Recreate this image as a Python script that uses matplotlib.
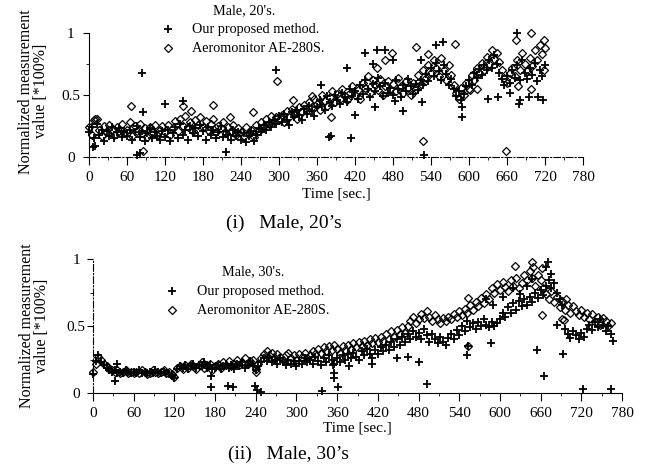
import numpy as np
import matplotlib
matplotlib.use("Agg")
import matplotlib.pyplot as plt
from matplotlib.ticker import MultipleLocator

plt.rcParams['font.family'] = ['Liberation Serif', 'DejaVu Serif']

# measurements taken every 4 s
t_20s = np.arange(0, 721, 4)
t_30s = np.arange(0, 765, 4)

# ---- Male, 20's ----
ours_20s = [
    0.20, 0.24, 0.15, 0.27, 0.18, 0.22, 0.13, 0.21, 0.17, 0.24, 0.15, 0.20, 0.23, 0.16, 0.21,
    0.17, 0.22, 0.14, 0.20, 0.25, 0.16, 0.21, 0.13, 0.19, 0.23, 0.15, 0.20, 0.17, 0.14, 0.21,
    0.16, 0.22, 0.13, 0.19, 0.24, 0.15, 0.27, 0.18, 0.22, 0.14, 0.25, 0.19, 0.23, 0.17, 0.26,
    0.21, 0.14, 0.24, 0.18, 0.22, 0.15, 0.20, 0.25, 0.16, 0.21, 0.18, 0.14, 0.22, 0.17, 0.20,
    0.14, 0.19, 0.12, 0.17, 0.21, 0.13, 0.18, 0.23, 0.20, 0.26, 0.22, 0.28, 0.24, 0.30, 0.27,
    0.33, 0.28, 0.35, 0.30, 0.26, 0.36, 0.32, 0.38, 0.34, 0.30, 0.39, 0.35, 0.41, 0.37, 0.33,
    0.40, 0.46, 0.42, 0.38, 0.49, 0.44, 0.41, 0.50, 0.46, 0.43, 0.52, 0.48, 0.44, 0.55, 0.49,
    0.53, 0.47, 0.58, 0.51, 0.62, 0.55, 0.48, 0.59, 0.53, 0.64, 0.57, 0.49, 0.60, 0.52, 0.56,
    0.50, 0.62, 0.55, 0.48, 0.58, 0.53, 0.63, 0.57, 0.51, 0.59, 0.54, 0.62, 0.58, 0.67, 0.61,
    0.72, 0.65, 0.76, 0.69, 0.62, 0.74, 0.67, 0.58, 0.63, 0.55, 0.49, 0.53, 0.46, 0.51, 0.57,
    0.62, 0.58, 0.68, 0.64, 0.71, 0.66, 0.74, 0.70, 0.78, 0.72, 0.82, 0.75, 0.68, 0.63, 0.58,
    0.65, 0.60, 0.70, 0.64, 0.74, 0.62, 0.78, 0.68, 0.63, 0.72, 0.66, 0.76, 0.61, 0.70, 0.65,
    0.74,
]
aero_20s = [
    0.24, 0.18, 0.30, 0.31, 0.22, 0.17, 0.25, 0.20, 0.26, 0.22, 0.18, 0.24, 0.21, 0.27, 0.19,
    0.22, 0.28, 0.17, 0.25, 0.21, 0.27, 0.19, 0.23, 0.16, 0.24, 0.20, 0.26, 0.18, 0.22, 0.25,
    0.20, 0.26, 0.18, 0.23, 0.29, 0.21, 0.31, 0.25, 0.33, 0.24, 0.28, 0.21, 0.30, 0.26, 0.32,
    0.24, 0.29, 0.22, 0.27, 0.31, 0.20, 0.25, 0.23, 0.28, 0.19, 0.24, 0.21, 0.26, 0.18, 0.23,
    0.20, 0.17, 0.24, 0.19, 0.22, 0.16, 0.26, 0.21, 0.28, 0.25, 0.31, 0.27, 0.33, 0.29, 0.32,
    0.30, 0.34, 0.28, 0.37, 0.32, 0.39, 0.35, 0.31, 0.40, 0.36, 0.42, 0.38, 0.44, 0.40, 0.47,
    0.43, 0.38, 0.50, 0.45, 0.41, 0.48, 0.53, 0.44, 0.51, 0.47, 0.55, 0.49, 0.46, 0.52, 0.57,
    0.50, 0.54, 0.47, 0.60, 0.56, 0.65, 0.52, 0.62, 0.58, 0.54, 0.63, 0.50, 0.57, 0.61, 0.55,
    0.59, 0.53, 0.64, 0.57, 0.52, 0.61, 0.56, 0.50, 0.60, 0.55, 0.66, 0.59, 0.70, 0.64, 0.74,
    0.68, 0.78, 0.72, 0.65, 0.80, 0.70, 0.62, 0.74, 0.66, 0.58, 0.52, 0.47, 0.56, 0.50, 0.60,
    0.55, 0.66, 0.62, 0.72, 0.68, 0.76, 0.70, 0.81, 0.75, 0.86, 0.79, 0.84, 0.77, 0.70, 0.64,
    0.60, 0.68, 0.72, 0.65, 0.78, 0.70, 0.84, 0.75, 0.69, 0.80, 0.73, 0.86, 0.78, 0.90, 0.83,
    0.88,
]
# scattered single readings (time, value)
ours_20s_extra_t = [7, 10, 76, 80, 83, 86, 120, 148, 217, 296, 366, 379, 382, 407, 413, 420,
                    436, 448, 452, 455, 467, 480, 483, 496, 524, 525, 529, 548, 559, 589, 589,
                    630, 646, 665, 676, 679, 680, 695, 709, 717]
ours_20s_extra_v = [0.08, 0.09, 0.02, 0.03, 0.68, 0.36, 0.43, 0.45, 0.04, 0.70, 0.58, 0.16, 0.17,
                    0.72, 0.15, 0.34, 0.84, 0.75, 0.40, 0.86, 0.86, 0.78, 0.45, 0.37, 0.78, 0.44,
                    0.015, 0.90, 0.93, 0.32, 0.40, 0.47, 0.48, 0.52, 1.00, 0.43, 0.46, 0.48, 0.48,
                    0.46]
aero_20s_extra_t = [10, 67, 85, 148, 161, 195, 223, 259, 297, 322, 352, 382, 455, 467, 479,
                    517, 528, 536, 578, 602, 612, 658, 674, 677, 698, 698, 718, 718]
aero_20s_extra_v = [0.31, 0.41, 0.05, 0.41, 0.37, 0.42, 0.32, 0.36, 0.61, 0.46, 0.49, 0.32,
                    0.72, 0.78, 0.84, 0.89, 0.13, 0.83, 0.91, 0.54, 0.55, 0.05, 0.94, 0.57,
                    1.00, 0.55, 0.94, 0.70]

# ---- Male, 30's ----
ours_30s = [
    0.14, 0.24, 0.28, 0.23, 0.21, 0.19, 0.17, 0.16, 0.17, 0.15, 0.16, 0.15, 0.17, 0.16, 0.15,
    0.16, 0.15, 0.17, 0.15, 0.16, 0.15, 0.16, 0.15, 0.17, 0.16, 0.15, 0.16, 0.15, 0.14, 0.13,
    0.11, 0.18, 0.20, 0.19, 0.21, 0.18, 0.20, 0.22, 0.19, 0.21, 0.20, 0.23, 0.19, 0.21, 0.18,
    0.19, 0.21, 0.18, 0.20, 0.22, 0.19, 0.21, 0.18, 0.22, 0.20, 0.23, 0.19, 0.21, 0.24, 0.20,
    0.17, 0.20, 0.23, 0.26, 0.24, 0.27, 0.23, 0.25, 0.22, 0.26, 0.23, 0.21, 0.25, 0.22, 0.24,
    0.20, 0.24, 0.22, 0.26, 0.23, 0.25, 0.22, 0.27, 0.24, 0.21, 0.26, 0.23, 0.28, 0.25, 0.22,
    0.26, 0.23, 0.28, 0.25, 0.29, 0.26, 0.30, 0.27, 0.25, 0.31, 0.28, 0.33, 0.29, 0.26, 0.32,
    0.29, 0.34, 0.31, 0.36, 0.32, 0.38, 0.34, 0.40, 0.36, 0.42, 0.38, 0.44, 0.40, 0.46, 0.42,
    0.45, 0.40, 0.48, 0.43, 0.38, 0.44, 0.40, 0.37, 0.42, 0.38, 0.36, 0.41, 0.44, 0.40, 0.47,
    0.43, 0.50, 0.46, 0.54, 0.49, 0.52, 0.48, 0.53, 0.50, 0.55, 0.51, 0.49, 0.53, 0.50, 0.52,
    0.55, 0.60, 0.57, 0.64, 0.60, 0.67, 0.62, 0.69, 0.65, 0.70, 0.66, 0.72, 0.68, 0.75, 0.71,
    0.77, 0.73, 0.80, 0.84, 0.78, 0.82, 0.75, 0.70, 0.66, 0.48, 0.44, 0.41, 0.46, 0.43, 0.40,
    0.45, 0.42, 0.48, 0.51, 0.47, 0.53, 0.49, 0.55, 0.51, 0.46, 0.50, 0.44,
]
aero_30s = [
    0.16, 0.22, 0.27, 0.25, 0.22, 0.20, 0.18, 0.17, 0.16, 0.17, 0.15, 0.16, 0.17, 0.15, 0.16,
    0.15, 0.16, 0.15, 0.17, 0.16, 0.14, 0.15, 0.17, 0.16, 0.15, 0.16, 0.17, 0.15, 0.16, 0.14,
    0.12, 0.19, 0.20, 0.18, 0.21, 0.19, 0.22, 0.20, 0.18, 0.21, 0.23, 0.19, 0.20, 0.22, 0.17,
    0.20, 0.22, 0.19, 0.23, 0.21, 0.24, 0.20, 0.22, 0.25, 0.21, 0.23, 0.26, 0.22, 0.24, 0.25,
    0.18, 0.22, 0.26, 0.29, 0.31, 0.28, 0.30, 0.26, 0.29, 0.27, 0.25, 0.28, 0.30, 0.26, 0.28,
    0.25, 0.29, 0.27, 0.30, 0.26, 0.28, 0.31, 0.29, 0.33, 0.30, 0.34, 0.31, 0.35, 0.32, 0.36,
    0.33, 0.30, 0.35, 0.32, 0.36, 0.33, 0.37, 0.34, 0.38, 0.35, 0.39, 0.36, 0.40, 0.37, 0.41,
    0.38, 0.42, 0.39, 0.44, 0.40, 0.46, 0.42, 0.47, 0.44, 0.49, 0.45, 0.50, 0.54, 0.57, 0.52,
    0.55, 0.59, 0.56, 0.61, 0.57, 0.54, 0.58, 0.55, 0.52, 0.56, 0.54, 0.57, 0.55, 0.59, 0.57,
    0.61, 0.58, 0.63, 0.60, 0.66, 0.62, 0.68, 0.65, 0.71, 0.67, 0.74, 0.70, 0.78, 0.75, 0.81,
    0.77, 0.83, 0.79, 0.76, 0.84, 0.80, 0.86, 0.78, 0.82, 0.88, 0.84, 0.91, 0.86, 0.80, 0.88,
    0.84, 0.78, 0.74, 0.70, 0.76, 0.68, 0.72, 0.64, 0.69, 0.62, 0.66, 0.60, 0.65, 0.61, 0.58,
    0.62, 0.57, 0.60, 0.55, 0.59, 0.53, 0.57, 0.51, 0.56, 0.54, 0.50, 0.52,
]
ours_30s_extra_t = [32, 36, 174, 174, 199, 207, 239, 242, 247, 337, 354, 355, 356, 361, 378,
                    411, 448, 465, 481, 492, 552, 553, 580, 587, 590, 605, 620, 630, 640, 648,
                    655, 665, 668, 671, 676, 684, 693, 723, 764, 766]
ours_30s_extra_v = [0.09, 0.22, 0.045, 0.13, 0.05, 0.045, 0.05, 0.02, 0.01, 0.015, 0.21, 0.15,
                    0.11, 0.045, 0.20, 0.22, 0.26, 0.27, 0.23, 0.07, 0.28, 0.35, 0.70, 0.37,
                    0.66, 0.72, 0.78, 0.74, 0.80, 0.85, 0.32, 0.13, 0.94, 0.98, 0.89, 0.51,
                    0.29, 0.03, 0.03, 0.39]
aero_30s_extra_t = [240, 553, 553, 622, 647, 649, 662, 662, 692, 694, 698]
aero_30s_extra_v = [0.16, 0.35, 0.71, 0.95, 0.98, 0.94, 0.93, 0.585, 0.55, 0.545, 0.70]

W, H = 645, 470
fig = plt.figure(figsize=(W / 100, H / 100), dpi=100)

PLUS = dict(linestyle='none', marker='+', ms=5.8, color='black', mew=1.3)
DIAM = dict(linestyle='none', marker='D', ms=4.4, mfc='none', mec='black', mew=0.9)


def px(x, y):
    return x / W, 1 - y / H


def draw_panel(ax, t, ours, aero, ours_xt, ours_xv, aero_xt, aero_xv, ypad):
    ax.plot(t, aero, clip_on=False, **DIAM)
    ax.plot(aero_xt, aero_xv, clip_on=False, **DIAM)
    ax.plot(t, ours, clip_on=False, **PLUS)
    ax.plot(ours_xt, ours_xv, clip_on=False, **PLUS)

    ax.set_xlim(0, 780)
    ax.set_ylim(0, 1)
    ax.xaxis.set_major_locator(MultipleLocator(60))
    ax.xaxis.set_minor_locator(MultipleLocator(30))
    ax.set_yticks([0, 0.5, 1])
    ax.set_yticklabels(['0', '0.5', '1'], ha='center')
    ax.yaxis.set_minor_locator(MultipleLocator(0.25))
    ax.tick_params(axis='x', which='major', direction='out', length=5.5, width=0.8,
                   labelsize=11, pad=4.5)
    ax.tick_params(axis='x', which='minor', direction='out', length=2.5, width=0.6)
    ax.tick_params(axis='y', which='major', direction='out', length=4, width=0.8,
                   labelsize=11, pad=ypad)
    ax.tick_params(axis='y', which='minor', direction='out', length=2, width=0.6)
    ax.spines['top'].set_visible(False)
    ax.spines['right'].set_visible(False)
    ax.set_ylabel('Normalized measurement\nvalue [*100%]', fontsize=11.5, linespacing=0.95)
    ax.yaxis.set_label_coords(-0.081, 0.53)


def legend(title, tx, ty, mx, x0, y1, y2):
    fig.text(*px(tx, ty), title, ha='center', va='center', fontsize=10.3)
    fig.add_artist(plt.Line2D([mx / W], [1 - y1 / H], **PLUS))
    fig.add_artist(plt.Line2D([mx / W], [1 - y2 / H], **DIAM))
    fig.text(*px(x0, y1), 'Our proposed method.', ha='left', va='center', fontsize=10.3)
    fig.text(*px(x0, y2), 'Aeromonitor AE-280S.', ha='left', va='center', fontsize=10.3)


ax1 = fig.add_axes([89 / W, 1 - 157 / H, (583 - 89) / W, (157 - 33) / H])
draw_panel(ax1, t_20s, ours_20s, aero_20s, ours_20s_extra_t, ours_20s_extra_v,
           aero_20s_extra_t, aero_20s_extra_v, ypad=9)
ax1.spines['bottom'].set_linestyle((0, (6, 2, 1, 2)))
ax1.set_xlabel('Time [sec.]', fontsize=11, labelpad=2.5)
legend("Male, 20's.", 244, 11, 168, 192, 29, 48)
fig.text(*px(284, 223), "(i)   Male, 20\u2019s", ha='center', va='center', fontsize=14)

ax2 = fig.add_axes([93 / W, 1 - 393 / H, (622 - 93) / W, (393 - 259) / H])
draw_panel(ax2, t_30s, ours_30s, aero_30s, ours_30s_extra_t, ours_30s_extra_v,
           aero_30s_extra_t, aero_30s_extra_v, ypad=8.2)
ax2.spines['left'].set_linestyle((0, (6, 2, 1, 2)))
ax2.set_xlabel('Time [sec.]', fontsize=11, labelpad=1)
ax2.yaxis.set_label_coords(-0.081, 0.5)
legend("Male, 30's.", 253, 272, 172, 197, 291, 310)
fig.text(*px(288, 454), "(ii)   Male, 30\u2019s", ha='center', va='center', fontsize=14)

fig.savefig('out.png', dpi=100)
